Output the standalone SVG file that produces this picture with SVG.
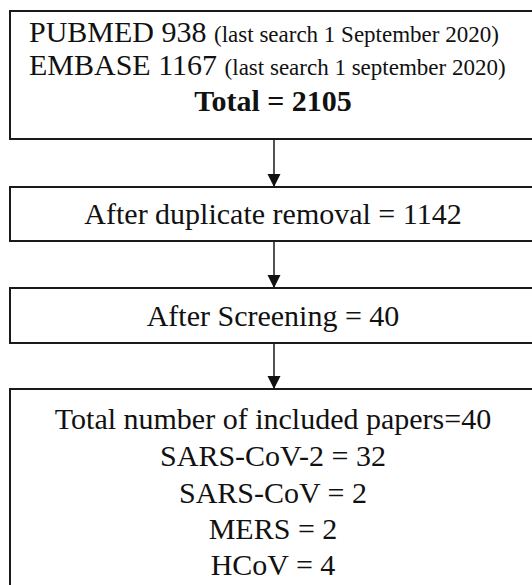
<svg xmlns="http://www.w3.org/2000/svg" width="532" height="585" viewBox="0 0 532 585">
<style>
.box{fill:#fff;stroke:#1a1a1a;stroke-width:2}
.t{font-family:"Liberation Serif","Times New Roman",serif;font-size:30px;fill:#111}
.s{font-size:23px}
.b{font-weight:bold}
.c{text-anchor:middle}
.ln{stroke:#1a1a1a;stroke-width:1.5;fill:none}
</style>
<defs>
<marker id="ah" viewBox="0 0 13 15" refX="13" refY="6.5" markerWidth="13" markerHeight="15" markerUnits="userSpaceOnUse" orient="auto">
<path d="M0,0 L13,6.5 L0,13 Z" fill="#111"/>
</marker>
</defs>
<rect width="532" height="585" fill="#fff"/>
<g id="connectors">
<line class="ln" x1="274" y1="140" x2="274" y2="187" marker-end="url(#ah)"/>
<line class="ln" x1="274" y1="242" x2="274" y2="288" marker-end="url(#ah)"/>
<line class="ln" x1="274" y1="344" x2="274" y2="389" marker-end="url(#ah)"/>
</g>
<g id="search">
<rect class="box" x="10" y="11" width="530" height="128"/>
<text class="t" x="29" y="42">PUBMED 938 <tspan class="s">(last search 1 September 2020)</tspan></text>
<text class="t" x="29" y="75">EMBASE 1167 <tspan class="s">(last search 1 september 2020)</tspan></text>
<text class="t b c" x="273" y="111">Total = 2105</text>
</g>
<g id="dedup">
<rect class="box" x="10" y="187" width="530" height="54"/>
<text class="t c" x="273" y="224">After duplicate removal = 1142</text>
</g>
<g id="screening">
<rect class="box" x="10" y="288" width="530" height="55"/>
<text class="t c" x="273" y="326">After Screening = 40</text>
</g>
<g id="included">
<rect class="box" x="10" y="389" width="530" height="220"/>
<text class="t c" x="273" y="429">Total number of included papers=40</text>
<text class="t c" x="273" y="466">SARS-CoV-2 = 32</text>
<text class="t c" x="273" y="503">SARS-CoV = 2</text>
<text class="t c" x="273" y="539">MERS = 2</text>
<text class="t c" x="273" y="575">HCoV = 4</text>
</g>
</svg>
